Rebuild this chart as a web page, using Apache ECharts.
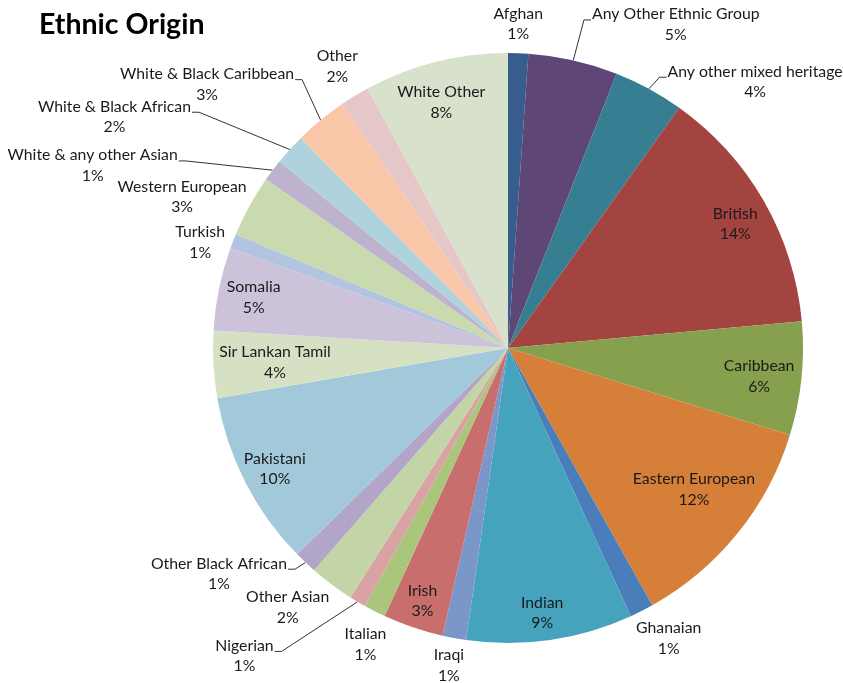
<!DOCTYPE html>
<html>
<head>
<meta charset="utf-8">
<script src="https://cdn.jsdelivr.net/npm/echarts@6.0.0/dist/echarts.min.js"></script>
<style>
  html, body { margin: 0; padding: 0; background: #ffffff; }
  #chart { width: 843px; height: 683px; }
</style>
</head>
<body>
<div id="chart"></div>
<script>
// ---- data ----
const categories = [
  'Afghan', 'Any Other Ethnic Group', 'Any other mixed heritage', 'British',
  'Caribbean', 'Eastern European', 'Ghanaian', 'Indian', 'Iraqi', 'Irish',
  'Italian', 'Nigerian', 'Other Asian', 'Other Black African', 'Pakistani',
  'Sir Lankan Tamil', 'Somalia', 'Turkish', 'Western European',
  'White & any other Asian', 'White & Black African', 'White & Black Caribbean',
  'Other', 'White Other'
];
const values = [
  1.1, 4.9, 3.85, 13.7,
  6.2, 12.1, 1.3, 9.1, 1.3, 3.3,
  1.2, 0.9, 2.45, 1.25, 9.6,
  3.67, 4.55, 0.8, 3.4,
  1.2, 1.7, 2.9,
  1.6, 7.9
];

// ---- styles ----
const colors = [
  '#365D8D', '#5E4777', '#367F93', '#A44441',
  '#86A04D', '#D67F38', '#4A7EBB', '#46A3BD', '#7B96C9', '#C86F6D',
  '#AAC57C', '#D9A3A3', '#C3D5A7', '#B2A5C7', '#A2C9DA',
  '#D6E1C3', '#CCC2DA', '#B3C4E0', '#CADAAF',
  '#BEB3CF', '#AED2DE', '#F9C6A8',
  '#E6C7C8', '#D8E1CB'
];
// label distance from centre, in pie radii
const labelDist = [
  1.105, 1.24, 1.235, 0.88,
  0.856, 0.789, 1.12, 0.90, 1.09, 0.90,
  1.11, 1.37, 1.15, 1.24, 0.888,
  0.791, 0.88, 1.105, 1.22,
  1.54, 1.55, 1.36,
  1.12, 0.868
];
// label angle (deg clockwise from top) when it differs from the slice's mid angle
const labelAngle = [
  1.8, 27.3, 42.7, 61.1,
  96.1, 127.0, 150.9, 172.6, 190.6, null,
  205.8, 220.7, 220.5, 232.2, 242.9,
  266.8, null, 289.2, 295.1,
  293.9, 300.6, 311.4,
  328.9, 344.9
];
const withLine = [
  false, true, true, false,
  false, false, false, false, false, false,
  false, true, false, true, false,
  false, false, false, false,
  true, true, true,
  false, false
];

const W = 843, H = 683;
const CX = 508, CY = 348, R = 295;

const total = values.reduce((a, b) => a + b, 0);
const midAngles = [];
(function () {
  let acc = 0;
  values.forEach(v => {
    midAngles.push((acc + v / 2) / total * 360);
    acc += v;
  });
})();

const chart = echarts.init(document.getElementById('chart'), null, { renderer: 'canvas' });

const labelFont = 'Lato, "Open Sans", "DejaVu Sans", sans-serif';
const LINE_H = 20.5;

const option = {
  animation: false,
  backgroundColor: '#ffffff',
  title: {
    text: 'Ethnic Origin',
    left: 34,
    top: 5,
    textStyle: {
      fontFamily: labelFont,
      fontSize: 28.5,
      fontWeight: 'bold',
      color: '#000000'
    }
  },
  series: [{
    type: 'pie',
    center: [CX, CY],
    radius: [0, R],
    startAngle: 90,
    clockwise: true,
    avoidLabelOverlap: false,
    itemStyle: { borderColor: '#ffffff', borderWidth: 0 },
    label: {
      show: true,
      position: 'outside',
      fontFamily: labelFont,
      fontSize: 15.8,
      lineHeight: LINE_H,
      color: '#1a1a1a',
      formatter: p => p.name + '\n' + Math.round(p.percent) + '%'
    },
    labelLine: {
      show: false,
      smooth: false,
      lineStyle: { color: '#333333', width: 1 }
    },
    labelLayout: function (params) {
      const i = params.dataIndex;
      const ang = (labelAngle[i] != null ? labelAngle[i] : midAngles[i]) * Math.PI / 180;
      const d = labelDist[i] * R;
      const x = CX + d * Math.sin(ang);
      const y = CY - d * Math.cos(ang) + 1.5;
      const res = { x: x, y: y, align: 'center', verticalAlign: 'middle' };
      if (withLine[i]) {
        const w = params.labelRect.width;
        const h = params.labelRect.height;
        const ma = midAngles[i] * Math.PI / 180;
        const p0 = [CX + R * Math.sin(ma), CY - R * Math.cos(ma)];
        const right = Math.sin(ang) > 0;
        const ey = y - h / 2 + LINE_H * 0.78;
        const ex = right ? x - w / 2 - 1 : x + w / 2 + 1;
        const bx = right ? ex - 7 : ex + 7;
        res.labelLinePoints = [p0, [bx, ey], [ex, ey]];
      }
      return res;
    },
    data: categories.map((name, i) => ({
      name: name,
      value: values[i],
      itemStyle: { color: colors[i] },
      labelLine: { show: withLine[i] }
    }))
  }]
};

chart.setOption(option);
</script>
</body>
</html>
